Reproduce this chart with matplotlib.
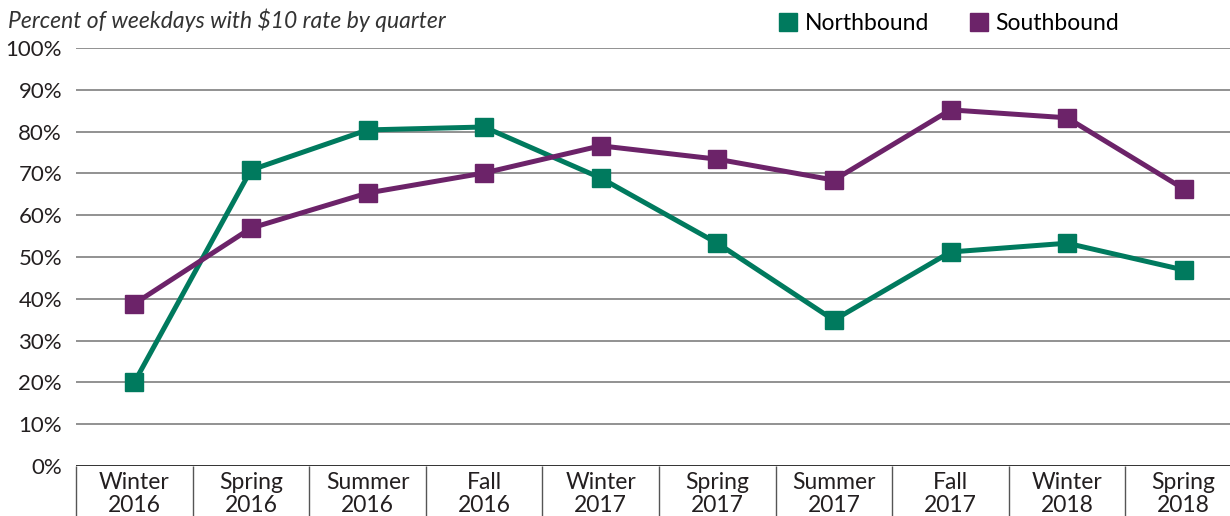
import numpy as np
import matplotlib
matplotlib.use('Agg')
import matplotlib.pyplot as plt
from matplotlib.lines import Line2D

plt.rcParams['font.family'] = ['Lato', 'DejaVu Sans']

# data
quarters = ['Winter\n2016', 'Spring\n2016', 'Summer\n2016', 'Fall\n2016', 'Winter\n2017',
            'Spring\n2017', 'Summer\n2017', 'Fall\n2017', 'Winter\n2018', 'Spring\n2018']
northbound = [20, 70.8, 80.4, 81.1, 68.9, 53.3, 34.9, 51.2, 53.3, 46.9]
southbound = [38.8, 56.9, 65.3, 70.1, 76.6, 73.4, 68.4, 85.2, 83.3, 66.3]
yticks = [0, 10, 20, 30, 40, 50, 60, 70, 80, 90, 100]

green = '#007A5E'
purple = '#6C2369'
text_col = '#231F20'

fig = plt.figure(figsize=(12.3, 5.16), dpi=100)
ax = fig.add_axes([76/1230, 50/516, 1166/1230, 418/516])

x = np.arange(len(quarters))
ax.plot(x, northbound, color=green, lw=3.6, marker='s', ms=12.5, zorder=3)
ax.plot(x, southbound, color=purple, lw=3.6, marker='s', ms=12.5, zorder=3)

ax.set_xlim(-0.5, len(quarters) - 0.5)
ax.set_ylim(0, 100)
ax.set_yticks(yticks)
ax.set_yticklabels([f'{v}%' for v in yticks], fontsize=16, color=text_col)
for v in yticks[1:]:
    ax.axhline(v, color='#7f7f7f', lw=1.2, zorder=1)
ax.axhline(0, color='#222222', lw=1.3, zorder=2)

ax.set_xticks(x)
ax.set_xticklabels(quarters, fontsize=16.5, color=text_col, linespacing=1.12)
ax.tick_params(axis='both', length=0)
ax.tick_params(axis='x', pad=4)
ax.tick_params(axis='y', pad=10)

# category separators below the axis
bounds = np.arange(len(quarters) + 1) - 0.5
ax.vlines(bounds, -12, 0, color='#555555', lw=1.0, clip_on=False)

for s in ax.spines.values():
    s.set_visible(False)

fig.text(8/1230, 1 - 20/516, 'Percent of weekdays with $10 rate by quarter',
         fontsize=16.5, style='italic', color='#333333', va='center', ha='left')

handles = [Line2D([], [], color=green, marker='s', ls='none', ms=12.5),
           Line2D([], [], color=purple, marker='s', ls='none', ms=12.5)]
fig.legend(handles, ['Northbound', 'Southbound'], loc='center',
           bbox_to_anchor=(948/1230, 1 - 24/516), ncol=2, frameon=False,
           fontsize=16.5, handletextpad=0.2, columnspacing=1.7, handlelength=1.0)

fig.savefig('out.png', dpi=100)
